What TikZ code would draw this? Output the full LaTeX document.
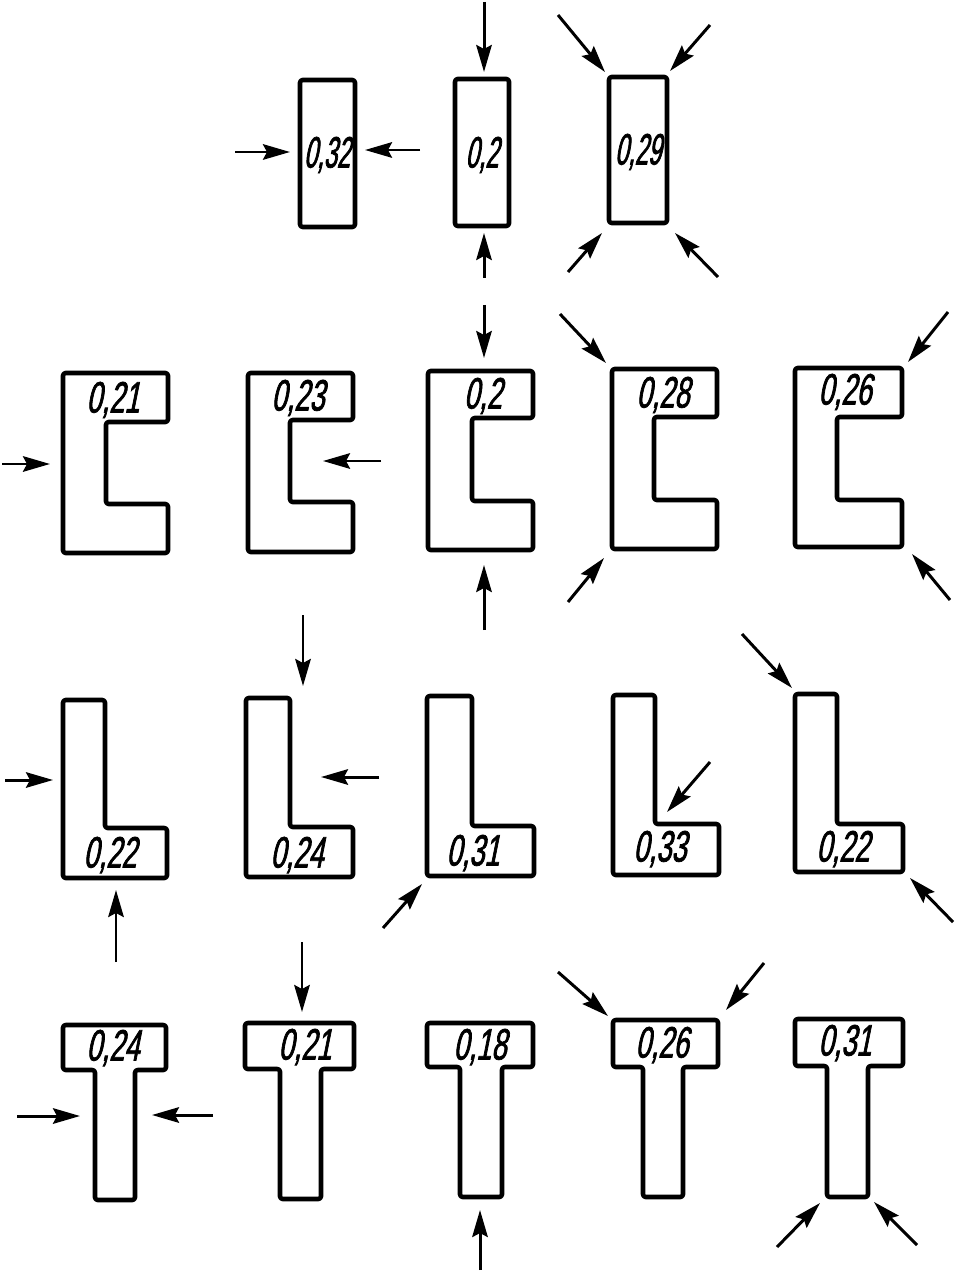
\documentclass[tikz,border=0pt]{standalone}
\usepackage{fontspec}
\newfontfamily\cifra[FakeStretch=0.62,FakeSlant=0.2,FakeBold=1.6]{Liberation Sans}
\newfontfamily\cifraestrecha[FakeStretch=0.54,FakeSlant=0.2,FakeBold=1.6]{Liberation Sans}
\usepackage{tikz}
\usetikzlibrary{arrows.meta}

\begin{document}
\begin{tikzpicture}[
		x=0.02cm, y=-0.02cm,
		perfil/.style={line width=2.6pt, rounded corners=1.5pt, line join=round},
		valor/.style={inner sep=0pt, font=\cifra\fontsize{25}{25}\selectfont},
		valorest/.style={inner sep=0pt, font=\cifraestrecha\fontsize{25}{25}\selectfont},
		fuerza/.style={-{Stealth[length=5.4mm, width=3.1mm, inset=0.8mm]}, line width=1.7pt}
		]
		\useasboundingbox (0,0) rectangle (954,1273);
		
		% 1. Fila superior: secciones rectangulares
		\draw[perfil] (300,80) rectangle (355,227);
		\draw[perfil] (455,79) rectangle (509,226);
		\draw[perfil] (609,77) rectangle (667,223);
		\node[valorest] (r1) at (327,155) {0,32};
		\node[valorest] (r2) at (482,155) {0,2};
		\node[valorest] (r3) at (638,152) {0,29};
		
		% 2. Segunda fila: perfiles en C
		\draw[perfil] (63,373) -- (168,373) -- (168,422) -- (106,422) -- (106,504) -- (168,504) -- (168,553) -- (63,553) -- cycle;
		\draw[perfil] (248,373) -- (353,373) -- (353,420) -- (290,420) -- (290,502) -- (353,502) -- (353,552) -- (248,552) -- cycle;
		\draw[perfil] (428,371) -- (533,371) -- (533,418) -- (472,418) -- (472,501) -- (533,501) -- (533,550) -- (428,550) -- cycle;
		\draw[perfil] (612,369) -- (717,369) -- (717,417) -- (654,417) -- (654,500) -- (717,500) -- (717,549) -- (612,549) -- cycle;
		\draw[perfil] (795,368) -- (902,368) -- (902,417) -- (837,417) -- (837,500) -- (902,500) -- (902,547) -- (795,547) -- cycle;
		\node[valor] (c1) at (113,400) {0,21};
		\node[valor] (c2) at (298,398) {0,23};
		\node[valor] (c3) at (483,396) {0,2};
		\node[valor] (c4) at (663,395) {0,28};
		\node[valor] (c5) at (845,392) {0,26};
		
		% 3. Tercera fila: angulares
		\draw[perfil] (63,700) -- (105,700) -- (105,828) -- (167,828) -- (167,878) -- (63,878) -- cycle;
		\draw[perfil] (246,698) -- (290,698) -- (290,827) -- (353,827) -- (353,877) -- (246,877) -- cycle;
		\draw[perfil] (427,696) -- (472,696) -- (472,826) -- (534,826) -- (534,876) -- (427,876) -- cycle;
		\draw[perfil] (613,695) -- (655,695) -- (655,824) -- (719,824) -- (719,875) -- (613,875) -- cycle;
		\draw[perfil] (795,694) -- (837,694) -- (837,824) -- (903,824) -- (903,872) -- (795,872) -- cycle;
		\node[valor] (l1) at (110,855) {0,22};
		\node[valor] (l2) at (297,855) {0,24};
		\node[valor] (l3) at (473,853) {0,31};
		\node[valor] (l4) at (660,849) {0,33};
		\node[valor] (l5) at (843,849) {0,22};
		
		% 4. Fila inferior: perfiles en T
		\draw[perfil] (63,1025) -- (166,1025) -- (166,1070) -- (135,1070) -- (135,1200) -- (95,1200) -- (95,1070) -- (63,1070) -- cycle;
		\draw[perfil] (245,1023) -- (354,1023) -- (354,1069) -- (321,1069) -- (321,1199) -- (280,1199) -- (280,1069) -- (245,1069) -- cycle;
		\draw[perfil] (427,1023) -- (533,1023) -- (533,1067) -- (502,1067) -- (502,1197) -- (460,1197) -- (460,1067) -- (427,1067) -- cycle;
		\draw[perfil] (613,1020) -- (718,1020) -- (718,1067) -- (683,1067) -- (683,1197) -- (643,1197) -- (643,1067) -- (613,1067) -- cycle;
		\draw[perfil] (795,1019) -- (903,1019) -- (903,1066) -- (868,1066) -- (868,1197) -- (827,1197) -- (827,1066) -- (795,1066) -- cycle;
		\node[valor] (t1) at (113,1048) {0,24};
		\node[valor] (t2) at (305,1047) {0,21};
		\node[valor] (t3) at (480,1047) {0,18};
		\node[valor] (t4) at (662,1045) {0,26};
		\node[valor] (t5) at (845,1043) {0,31};
		
		% 5. Flechas de carga (origen / punta)
		\foreach \i/\a/\b in {
			1/{235,152}/{290,152}, 2/{420,150}/{365,150}, 3/{484,2}/{484,72}, 4/{484,278}/{484,233},
			5/{558,15}/{605,72}, 6/{710,25}/{670,71}, 7/{568,272}/{602,233}, 8/{718,277}/{675,233},
			9/{2,464}/{50,464}, 10/{381,461}/{323,461}, 11/{484,305}/{484,358}, 12/{484,630}/{484,565},
			13/{560,314}/{606,363}, 14/{568,602}/{604,558}, 15/{948,312}/{908,362}, 16/{950,600}/{912,554},
			17/{5,780}/{53,780}, 18/{116,962}/{116,890}, 19/{303,615}/{303,686}, 20/{379,777}/{321,777},
			21/{383,928}/{422,884}, 22/{710,762}/{667,812}, 23/{742,634}/{792,688}, 24/{953,922}/{910,878},
			25/{17,1116}/{80,1116}, 26/{213,1115}/{152,1115}, 27/{302,942}/{302,1012}, 28/{480,1270}/{480,1210},
			29/{558,972}/{608,1016}, 30/{764,963}/{726,1010}, 31/{777,1247}/{820,1203}, 32/{917,1245}/{874,1202}}
		{
			\coordinate (o\i) at (\a);
			\coordinate (p\i) at (\b);
			\draw[fuerza] (o\i) -- (p\i);
		}
		
	\end{tikzpicture}
\end{document}
